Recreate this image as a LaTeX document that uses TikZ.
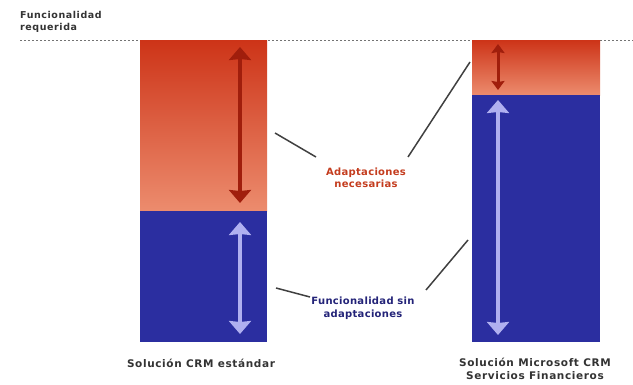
\documentclass[tikz,border=0pt]{standalone}
\usepackage{fontspec}
\setmainfont{DejaVu Sans}
\usetikzlibrary{arrows.meta}
\definecolor{redtop}{RGB}{205,52,24}
\definecolor{redbot}{RGB}{236,140,110}
\definecolor{barblue}{RGB}{43,46,160}
\definecolor{darkred}{RGB}{160,30,12}
\definecolor{lilac}{RGB}{176,176,240}
\definecolor{lblred}{RGB}{196,60,30}
\definecolor{lblblue}{RGB}{35,35,120}
\tikzset{
  redpart/.style={top color=redtop, bottom color=redbot, draw=none},
  bluepart/.style={fill=barblue, draw=none},
  redarr/.style={darkred, line width=4.5pt, {Stealth[inset=1pt,width=22pt,length=13pt]}-{Stealth[inset=1pt,width=22pt,length=13pt]}},
  smallredarr/.style={darkred, line width=3pt, {Stealth[inset=1pt,width=13pt,length=9pt]}-{Stealth[inset=1pt,width=13pt,length=9pt]}},
  bluearr/.style={lilac, line width=4.5pt, {Stealth[inset=1pt,width=22pt,length=13pt]}-{Stealth[inset=1pt,width=22pt,length=13pt]}},
  leader/.style={draw=black!75, line width=1.5pt},
  lbl/.style={font=\fontsize{10}{12.5}\selectfont\bfseries\addfontfeature{LetterSpace=3}, align=center, inner sep=1pt},
  captxt/.style={font=\fontsize{10.5}{13.5}\selectfont\bfseries\addfontfeature{LetterSpace=6}, align=center, text=black!80, inner sep=1pt}
}
\begin{document}
\begin{tikzpicture}[x=1pt,y=-1pt]
\useasboundingbox (0,0) rectangle (633,385);
% dashed reference line
\draw[black!55, dash pattern=on 2pt off 2pt, line width=0.8pt] (20,40) -- (633,40);
\node[captxt, anchor=north west, align=left, font=\fontsize{9.5}{12.5}\selectfont\bfseries\addfontfeature{LetterSpace=6}] (req) at (19,10) {Funcionalidad\\requerida};
% left bar
\node[redpart, minimum width=127pt, minimum height=171pt, inner sep=0pt, anchor=north west] (lred) at (140,40) {};
\node[bluepart, minimum width=127pt, minimum height=131pt, inner sep=0pt, anchor=north west] (lblue) at (140,211) {};
% right bar
\node[redpart, minimum width=128pt, minimum height=55pt, inner sep=0pt, anchor=north west] (rred) at (472,40) {};
\node[bluepart, minimum width=128pt, minimum height=247pt, inner sep=0pt, anchor=north west] (rblue) at (472,95) {};
% arrows
\coordinate (la1) at (240,47); \coordinate (la2) at (240,203);
\coordinate (lb1) at (240,222); \coordinate (lb2) at (240,334);
\coordinate (ra1) at (498,44); \coordinate (ra2) at (498,90);
\coordinate (rb1) at (498,100); \coordinate (rb2) at (498,335);
\draw[redarr] (la1) -- (la2);
\draw[bluearr] (lb1) -- (lb2);
\draw[smallredarr] (ra1) -- (ra2);
\draw[bluearr] (rb1) -- (rb2);
% labels
\node[lbl, text=lblred] (adap) at (366,178) {Adaptaciones\\necesarias};
\node[lbl, text=lblblue] (func) at (363,308) {Funcionalidad sin\\adaptaciones};
% leaders
\coordinate (l1a) at (275,133); \coordinate (l1b) at (316,157);
\coordinate (l2a) at (470,62); \coordinate (l2b) at (408,157);
\coordinate (l3a) at (276,288); \coordinate (l3b) at (310,297);
\coordinate (l4a) at (468,240); \coordinate (l4b) at (426,290);
\draw[leader] (l1a) -- (l1b);
\draw[leader] (l2a) -- (l2b);
\draw[leader] (l3a) -- (l3b);
\draw[leader] (l4a) -- (l4b);
% captions
\node[captxt] (c1) at (201,363) {Solución CRM estándar};
\node[captxt] (c2) at (535,369) {Solución Microsoft CRM\\Servicios Financieros};
\end{tikzpicture}
\end{document}
